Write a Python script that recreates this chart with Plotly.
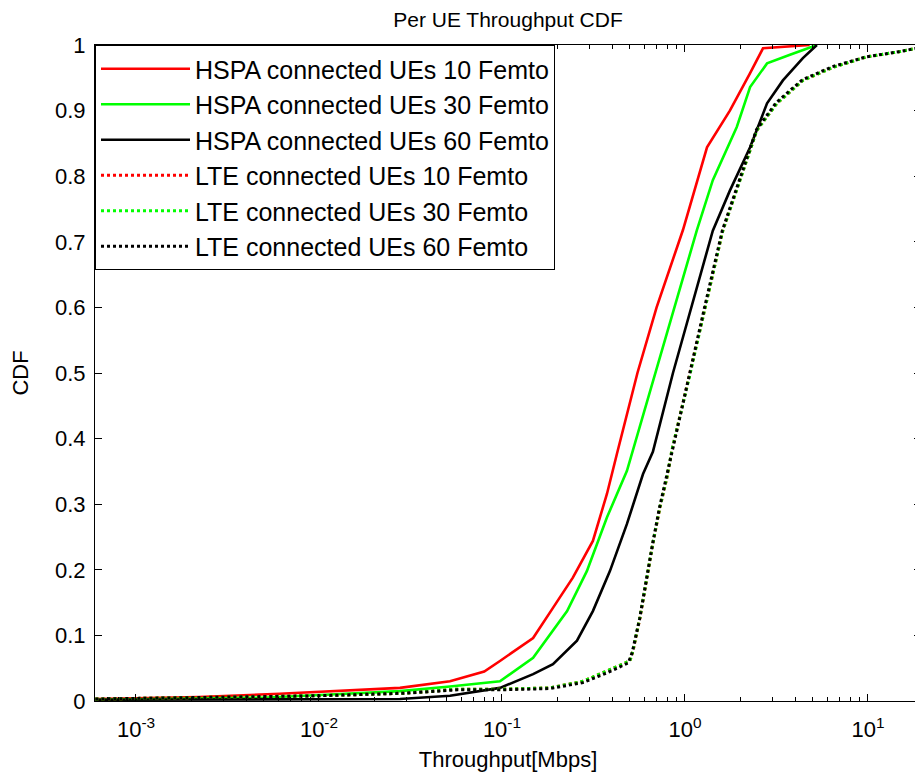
import plotly.graph_objects as go

# ---------------- data ----------------
hspa10_x = [6e-4, 0.0022, 0.0061, 0.0119, 0.0183, 0.0277, 0.052, 0.08, 0.0975, 0.148, 0.19, 0.244,
            0.314, 0.375, 0.425, 0.55, 0.70, 0.975, 1.32, 1.76, 2.27, 2.67, 4.8]
hspa10_y = [0.003, 0.006, 0.011, 0.015, 0.018, 0.020, 0.030, 0.045, 0.061, 0.096, 0.142, 0.188,
            0.244, 0.316, 0.377, 0.50, 0.60, 0.718, 0.844, 0.90, 0.957, 0.995, 1.0]

hspa30_x = [6e-4, 0.0049, 0.0115, 0.0277, 0.052, 0.0975, 0.148, 0.227, 0.291, 0.375, 0.482, 0.69,
            0.88, 1.16, 1.42, 1.92, 2.27, 2.81, 3.75, 5.26]
hspa30_y = [0.002, 0.005, 0.010, 0.015, 0.022, 0.030, 0.066, 0.137, 0.198, 0.280, 0.351, 0.50,
            0.60, 0.717, 0.794, 0.875, 0.936, 0.972, 0.985, 1.0]

hspa60_x = [6e-4, 0.0277, 0.052, 0.0975, 0.148, 0.19, 0.257, 0.314, 0.389, 0.482, 0.59, 0.668,
            0.86, 1.08, 1.42, 1.76, 2.27, 2.81, 3.43, 4.41, 5.26]
hspa60_y = [0.002, 0.003, 0.008, 0.020, 0.041, 0.056, 0.092, 0.137, 0.198, 0.270, 0.346, 0.380,
            0.50, 0.60, 0.717, 0.778, 0.844, 0.911, 0.946, 0.980, 1.0]

lte10_x = [6e-4, 0.002, 0.01, 0.03, 0.057, 0.0975, 0.183, 0.277, 0.375, 0.50, 0.52, 0.568, 0.62,
           0.668, 0.73, 0.797, 0.849, 1.07, 1.29, 1.61, 2.0, 2.47, 3.18, 4.41, 6.44, 9.88, 15.0, 20.0]
lte10_y = [0.003, 0.005, 0.008, 0.012, 0.018, 0.018, 0.020, 0.030, 0.046, 0.061, 0.076, 0.127, 0.188,
           0.240, 0.295, 0.340, 0.382, 0.50, 0.60, 0.717, 0.794, 0.870, 0.911, 0.946, 0.966, 0.982, 0.990, 0.997]

lte30_x = [6e-4, 0.002, 0.01, 0.03, 0.057, 0.0975, 0.183, 0.277, 0.375, 0.50, 0.52, 0.568, 0.62,
           0.668, 0.73, 0.797, 0.849, 1.07, 1.29, 1.61, 2.0, 2.47, 3.18, 4.41, 6.44, 9.88, 15.0, 20.0]
lte30_y = [0.003, 0.005, 0.008, 0.012, 0.018, 0.018, 0.020, 0.030, 0.046, 0.061, 0.077, 0.128, 0.189,
           0.241, 0.296, 0.341, 0.383, 0.50, 0.60, 0.717, 0.794, 0.870, 0.911, 0.946, 0.966, 0.982, 0.990, 0.997]

lte60_x = [6e-4, 0.002, 0.01, 0.03, 0.057, 0.0975, 0.183, 0.277, 0.375, 0.49, 0.515, 0.565, 0.615,
           0.665, 0.725, 0.79, 0.845, 1.065, 1.28, 1.60, 1.99, 2.46, 3.15, 4.38, 6.40, 9.8, 15.0, 20.0]
lte60_y = [0.003, 0.005, 0.008, 0.012, 0.017, 0.017, 0.019, 0.028, 0.043, 0.058, 0.074, 0.125, 0.186,
           0.239, 0.294, 0.340, 0.381, 0.50, 0.60, 0.717, 0.794, 0.871, 0.912, 0.947, 0.967, 0.982, 0.990, 0.997]

x_tickvals = [1e-3, 1e-2, 1e-1, 1, 10]
x_ticktext = ["10<sup>-3</sup>", "10<sup>-2</sup>", "10<sup>-1</sup>", "10<sup>0</sup>", "10<sup>1</sup>"]
x_minor_tickvals = [m * d for d in (1e-4, 1e-3, 1e-2, 1e-1, 1, 10) for m in range(2, 10)]
y_tickvals = [0, 0.1, 0.2, 0.3, 0.4, 0.5, 0.6, 0.7, 0.8, 0.9, 1.0]
y_ticktext = ["0", "0.1", "0.2", "0.3", "0.4", "0.5", "0.6", "0.7", "0.8", "0.9", "1"]

series = [
    ("HSPA connected UEs 10 Femto", hspa10_x, hspa10_y, "#ff0000", "solid"),
    ("HSPA connected UEs 30 Femto", hspa30_x, hspa30_y, "#00ff00", "solid"),
    ("HSPA connected UEs 60 Femto", hspa60_x, hspa60_y, "#000000", "solid"),
    ("LTE connected UEs 10 Femto", lte10_x, lte10_y, "#ff0000", "dot"),
    ("LTE connected UEs 30 Femto", lte30_x, lte30_y, "#00ff00", "dot"),
    ("LTE connected UEs 60 Femto", lte60_x, lte60_y, "#000000", "dot"),
]

FONT = "Liberation Sans, Arial, sans-serif"

fig = go.Figure()
for name, xs, ys, color, dash in series:
    fig.add_trace(go.Scatter(
        x=xs, y=ys, mode="lines", name=name,
        line=dict(color=color, width=3 if dash == "dot" else 2.6, dash=dash),
    ))

# page body has an 8px margin, so the figure is sized/margined to compensate
fig.update_layout(
    width=915, height=772,
    margin=dict(l=87, r=2, t=37, b=79, autoexpand=False),
    paper_bgcolor="white", plot_bgcolor="white",
    font=dict(family=FONT, color="black", size=22),
    title=dict(text="Per UE Throughput CDF", x=0.5, xref="paper", xanchor="center",
               y=1 - 12 / 772, yanchor="middle", yref="container",
               font=dict(family=FONT, size=21, color="black")),
    showlegend=True,
    legend=dict(x=0, y=1, xanchor="left", yanchor="top",
                bgcolor="white", bordercolor="black", borderwidth=1,
                font=dict(family=FONT, size=25, color="black"),
                itemwidth=89, traceorder="normal"),
)

fig.update_xaxes(
    type="log", range=[-3.224, 1.29], automargin=False,
    tickvals=x_tickvals, ticktext=x_ticktext,
    ticks="inside", ticklen=7, tickcolor="black", ticklabelstandoff=9,
    minor=dict(ticks="inside", ticklen=4, tickcolor="black", tickmode="array",
               tickvals=x_minor_tickvals),
    showline=True, linecolor="black", linewidth=1, mirror="ticks",
    showgrid=False, zeroline=False,
    tickfont=dict(family=FONT, size=22),
    title=dict(text="Throughput[Mbps]", standoff=10, font=dict(family=FONT, size=22)),
)
fig.update_yaxes(
    range=[0, 1], tickvals=y_tickvals, ticktext=y_ticktext, automargin=False,
    ticks="inside", ticklen=7, tickcolor="black", ticklabelstandoff=4,
    showline=True, linecolor="black", linewidth=1, mirror="ticks",
    showgrid=False, zeroline=False,
    tickfont=dict(family=FONT, size=22),
    title=dict(text="CDF", standoff=24, font=dict(family=FONT, size=22)),
)

fig.write_html("out.html")
